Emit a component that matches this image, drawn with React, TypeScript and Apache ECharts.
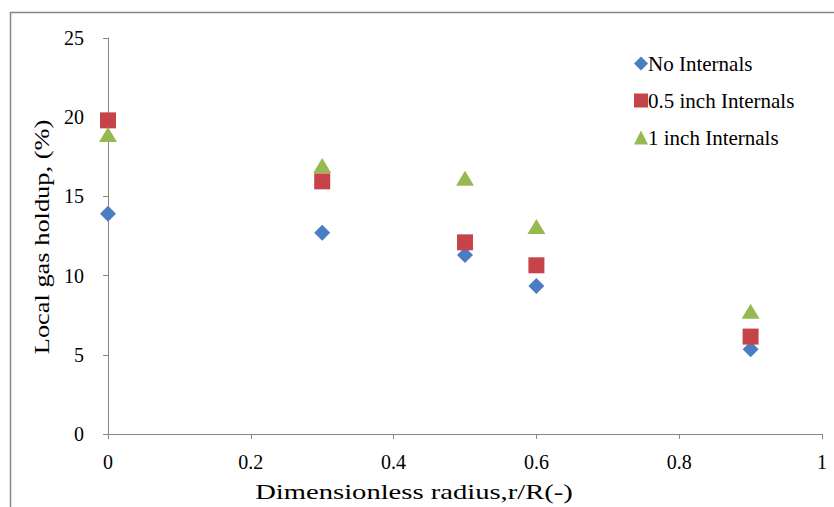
import React, { useEffect, useRef } from "react";
import * as echarts from "echarts";

const radius = [0, 0.3, 0.5, 0.6, 0.9];
const noInternals = [13.9, 12.7, 11.3, 9.35, 5.35];
const halfInch = [19.8, 15.95, 12.1, 10.65, 6.15];
const oneInch = [18.9, 16.95, 16.15, 13.1, 7.75];
const seriesNames = ["No Internals", "0.5 inch Internals", "1 inch Internals"];
const xTitle = "Dimensionless radius,r/R(-)";
const yTitle = "Local gas holdup, (%)";

const FONT = "Liberation Serif";

export default function App() {
  const ref = useRef<HTMLDivElement>(null);
  useEffect(() => {
    document.body.style.margin = "0";
    const chart = echarts.init(ref.current!, null, { renderer: "svg" });
    const mk = (vals: number[]) => radius.map((r, i) => [r, vals[i]]);
    chart.setOption({
      animation: false,
      backgroundColor: "#ffffff",
      grid: { left: 108, right: 12, top: 38, bottom: 73 },
      xAxis: {
        type: "value",
        min: 0,
        max: 1,
        interval: 0.2,
        axisLine: { show: true, lineStyle: { color: "#868686", width: 1 } },
        axisTick: { show: true, length: 5, lineStyle: { color: "#868686" } },
        splitLine: { show: false },
        axisLabel: {
          color: "#000",
          fontFamily: FONT,
          fontSize: 20,
          margin: 18,
          formatter: (v: number) => String(Math.round(v * 10) / 10),
        },
      },
      yAxis: {
        type: "value",
        min: 0,
        max: 25,
        interval: 5,
        axisLine: { show: true, lineStyle: { color: "#868686", width: 1 } },
        axisTick: { show: true, length: 5, lineStyle: { color: "#868686" } },
        splitLine: { show: false },
        axisLabel: { color: "#000", fontFamily: FONT, fontSize: 20, margin: 24 },
      },
      legend: {
        orient: "vertical",
        left: 629,
        top: 48,
        itemGap: 16,
        itemWidth: 14,
        itemHeight: 14,
        data: [
          { name: seriesNames[0], icon: "diamond" },
          { name: seriesNames[1], icon: "rect" },
          { name: seriesNames[2], icon: "triangle" },
        ],
        textStyle: { color: "#000", fontFamily: FONT, fontSize: 21, padding: [0, 0, 0, -5] },
      },
      graphic: [
        {
          type: "rect",
          shape: { x: 10.5, y: 12.5, width: 840, height: 510 },
          style: { fill: "none", stroke: "#868686", lineWidth: 1.5 },
          silent: true,
        },
        {
          type: "text",
          x: 414,
          y: 492,
          scaleX: 1.3,
          style: {
            text: xTitle,
            fontFamily: FONT,
            fontSize: 22,
            fill: "#000",
            align: "center",
            verticalAlign: "middle",
          },
        },
        {
          type: "text",
          x: 41,
          y: 237,
          rotation: Math.PI / 2,
          scaleX: 1.2,
          style: {
            text: yTitle,
            fontFamily: FONT,
            fontSize: 22,
            fill: "#000",
            align: "center",
            verticalAlign: "middle",
          },
        },
      ],
      series: [
        {
          name: seriesNames[0],
          type: "scatter",
          symbol: "diamond",
          symbolSize: 16,
          itemStyle: { color: "#4A7DC2", opacity: 1 },
          data: mk(noInternals),
        },
        {
          name: seriesNames[1],
          type: "scatter",
          symbol: "rect",
          symbolSize: 16,
          itemStyle: { color: "#C4444A", opacity: 1 },
          data: mk(halfInch),
        },
        {
          name: seriesNames[2],
          type: "scatter",
          symbol: "triangle",
          symbolSize: [18, 15],
          itemStyle: { color: "#96BA50", opacity: 1 },
          data: mk(oneInch),
        },
      ],
    });
    return () => chart.dispose();
  }, []);
  return <div ref={ref} style={{ width: 834, height: 507 }} />;
}
